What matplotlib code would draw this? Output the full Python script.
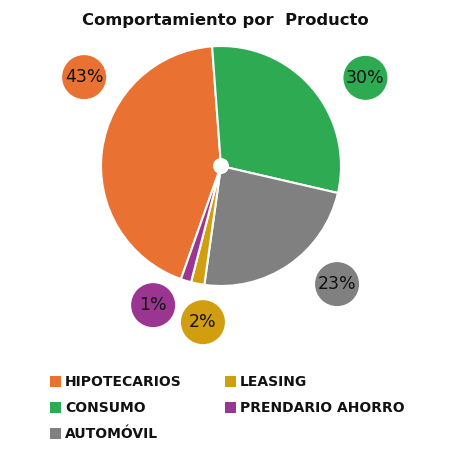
import matplotlib
matplotlib.use("Agg")
import matplotlib.pyplot as plt
from matplotlib.patches import Circle, Patch
import numpy as np

categories = ["HIPOTECARIOS", "CONSUMO", "AUTOMÓVIL", "LEASING", "PRENDARIO AHORRO"]
values = [43.4, 29.8, 23.6, 1.8, 1.4]
labels = ["43%", "30%", "23%", "2%", "1%"]
colors = ["#E97132", "#2EAA52", "#808080", "#D19E10", "#9B3592"]
title = "Comportamiento por  Producto"

# layout: label bubble placement (angle deg, distance in pie radii)
label_pos = [(147, 1.36), (31.4, 1.41), (-45.5, 1.38), (-96.6, 1.31), (-116, 1.29)]

W = 450
fig = plt.figure(figsize=(4.5, 4.5), dpi=100)
ax = fig.add_axes([0, 0, 1, 1])
ax.set_xlim(0, W)
ax.set_ylim(0, W)
ax.set_aspect("equal")
ax.axis("off")

cx, cy, R = 221, W - 166, 120
ax.pie(values, colors=colors, startangle=250.5, counterclock=False,
       center=(cx, cy), radius=R, frame=True,
       wedgeprops=dict(edgecolor="white", linewidth=1.5))
ax.set_xlim(0, W)
ax.set_ylim(0, W)
ax.axis("off")
ax.add_patch(Circle((cx, cy), 8, facecolor="white", edgecolor="none", zorder=5))

for lab, col, (ang, d) in zip(labels, colors, label_pos):
    x = cx + d * R * np.cos(np.radians(ang))
    y = cy + d * R * np.sin(np.radians(ang))
    ax.add_patch(Circle((x, y), 22, facecolor=col, edgecolor="none", zorder=6))
    ax.text(x, y, lab, ha="center", va="center", fontsize=12.5, color="#111111",
            family="DejaVu Sans", zorder=7)

ax.text(225, W - 20, title, ha="center", va="center", fontsize=11.8,
        fontweight="bold", family="DejaVu Sans", color="#111111")

handles = [Patch(facecolor=c, edgecolor="none") for c in colors]
leg = fig.legend(handles, categories, ncol=2, loc="upper left",
                 bbox_to_anchor=(37 / W, 1 - 363 / W), frameon=False,
                 prop=dict(family="DejaVu Sans", weight="bold", size=10),
                 handlelength=0.8, handleheight=0.8, handletextpad=0.3,
                 columnspacing=3.1, labelspacing=0.85)
for t in leg.get_texts():
    t.set_color("#111111")

fig.savefig("out.png", dpi=100)
